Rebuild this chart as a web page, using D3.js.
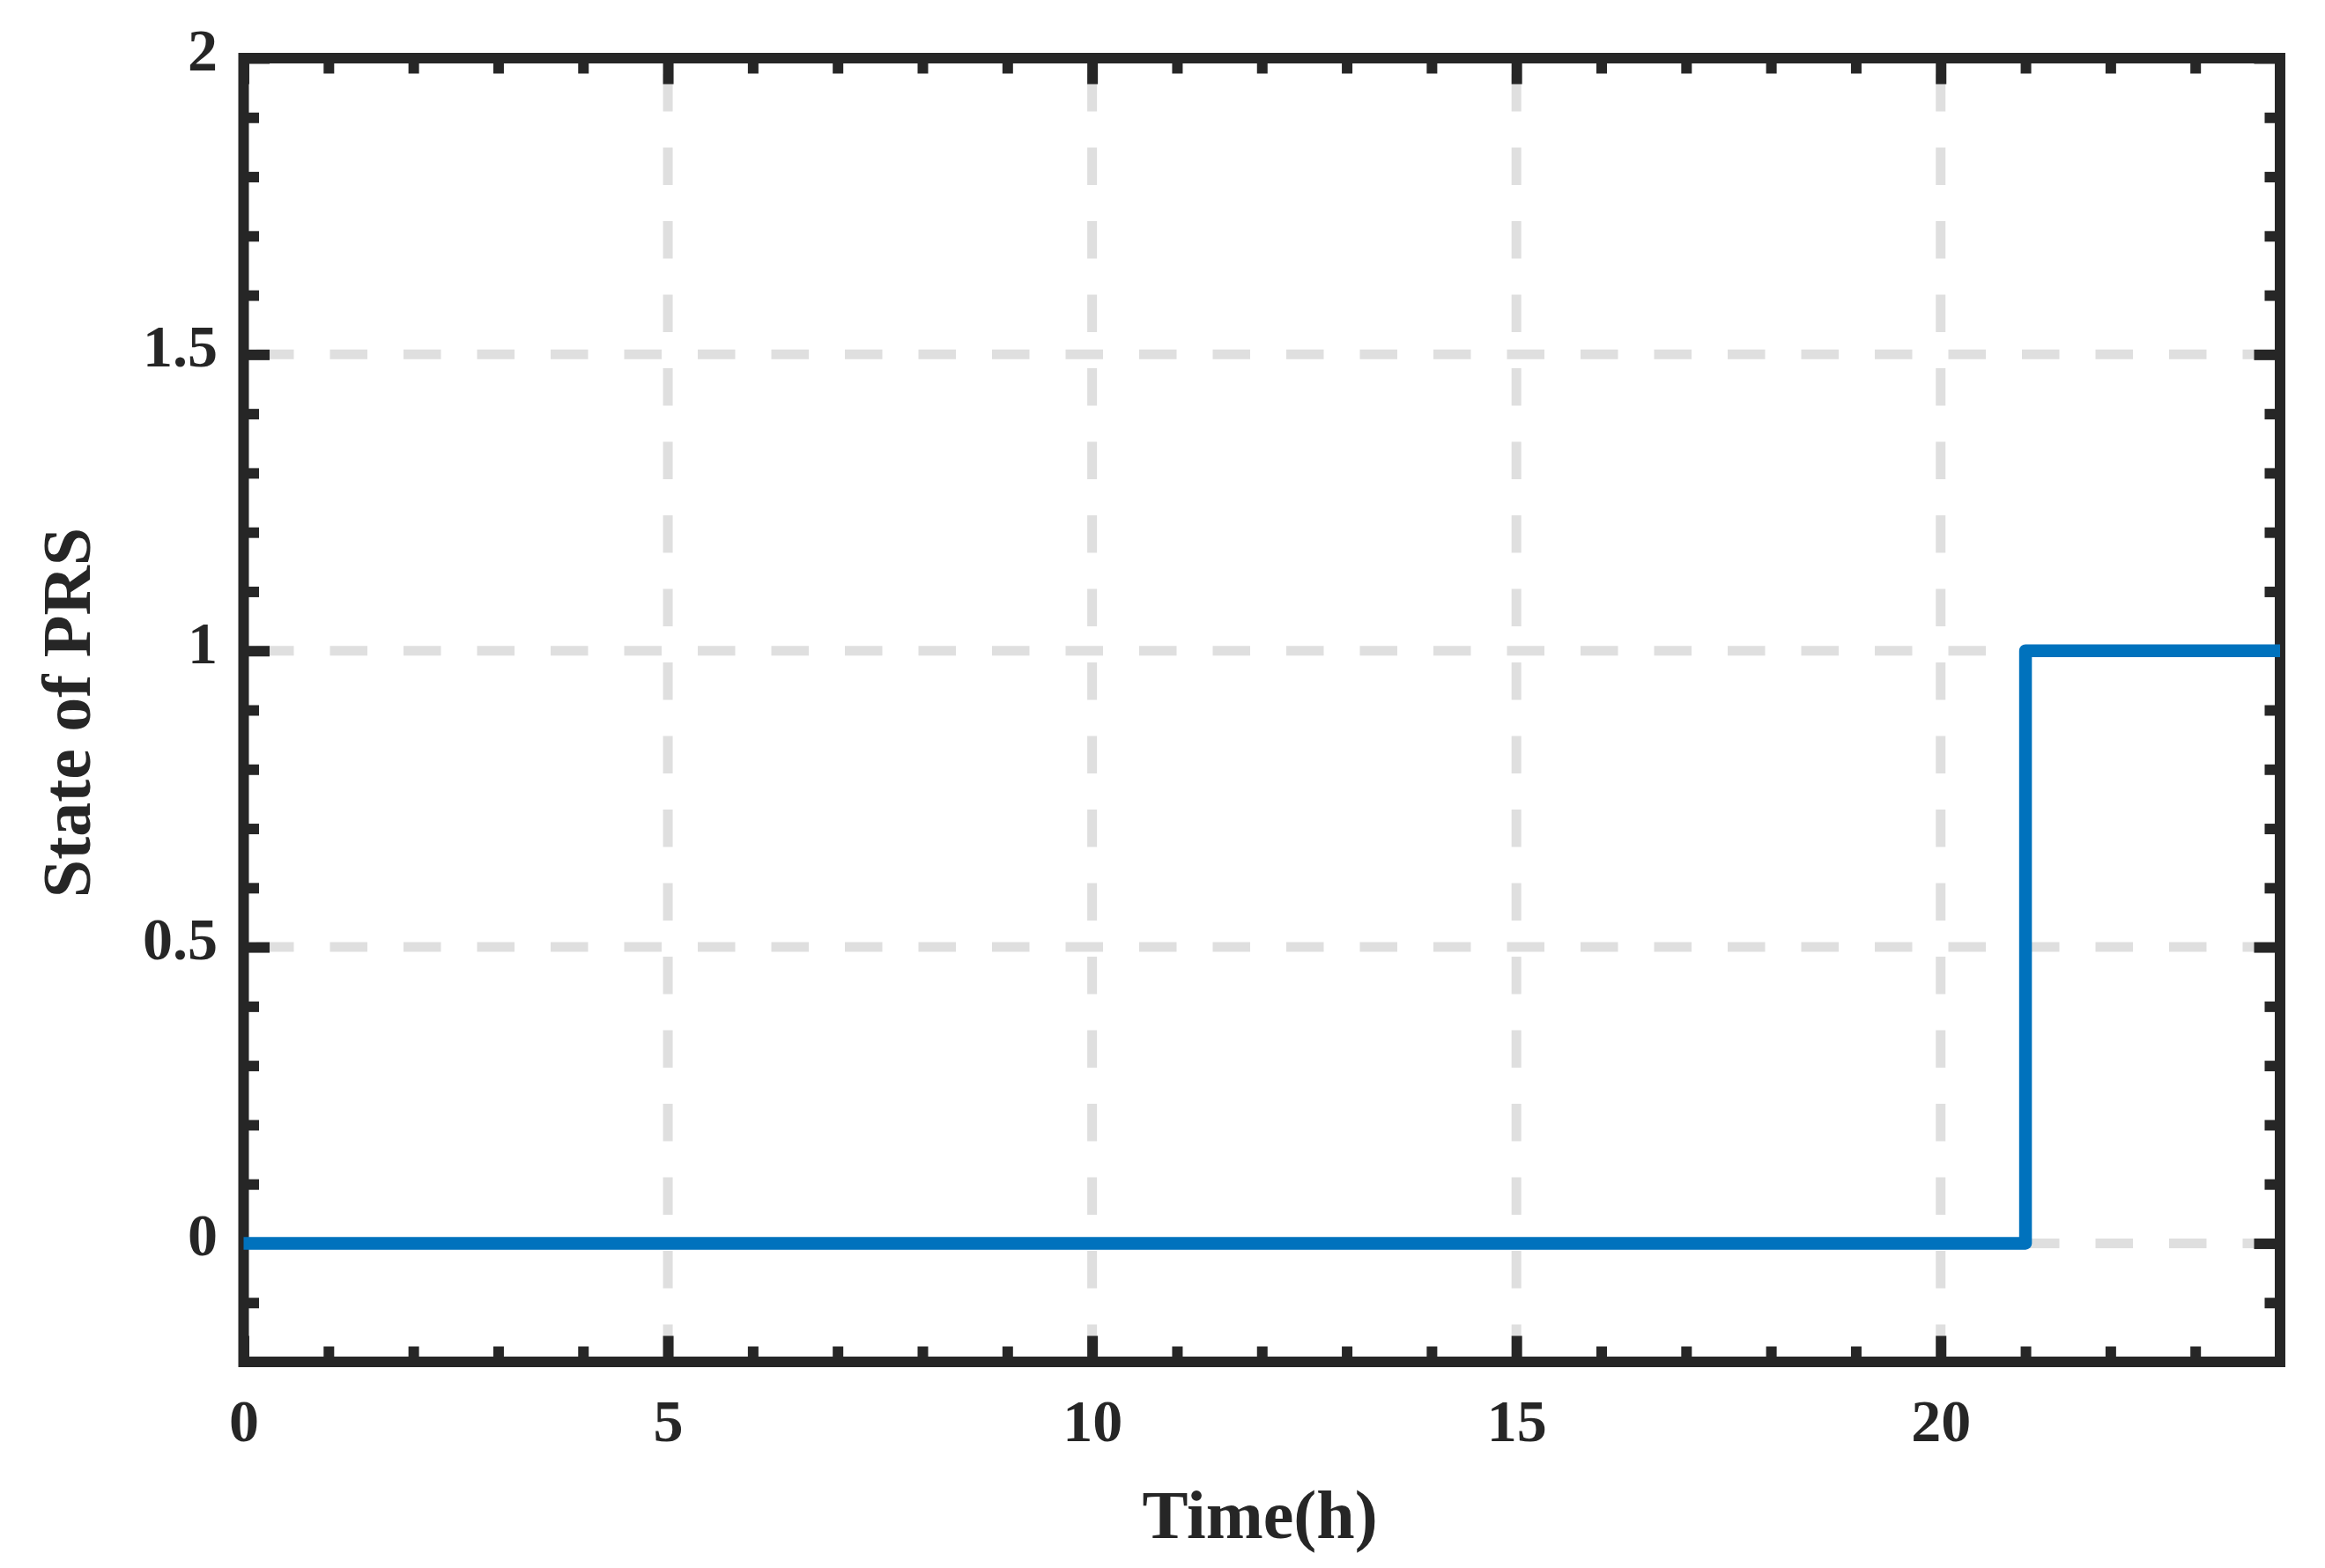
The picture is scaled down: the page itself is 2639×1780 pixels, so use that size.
<!DOCTYPE html>
<html>
<head>
<meta charset="utf-8">
<script src="https://cdn.jsdelivr.net/npm/d3@7"></script>
<style>
  html, body { margin: 0; padding: 0; background: #ffffff; }
  svg { display: block; }
</style>
</head>
<body>
<svg id="chart" width="2639" height="1780"></svg>
<script>
// ---- data ----
const hours = [0,1,2,3,4,5,6,7,8,9,10,11,12,13,14,15,16,17,18,19,20,21,22,23,24];
const prsState = [0,0,0,0,0,0,0,0,0,0,0,0,0,0,0,0,0,0,0,0,0,1,1,1,1];
const xMajorTicks = [0, 5, 10, 15, 20];
const xTickLabels = ["0", "5", "10", "15", "20"];
const xMinorTicks = [1,2,3,4,6,7,8,9,11,12,13,14,16,17,18,19,21,22,23];
const yMajorTicks = [0, 0.5, 1, 1.5, 2];
const yTickLabels = ["0", "0.5", "1", "1.5", "2"];
const yMinorTicks = [-0.1,0.1,0.2,0.3,0.4,0.6,0.7,0.8,0.9,1.1,1.2,1.3,1.4,1.6,1.7,1.8,1.9];
const xGridValues = [5, 10, 15, 20];
const yGridValues = [0, 0.5, 1, 1.5];
const xTitle = "Time(h)";
const yTitle = "State of PRS";

// ---- layout ----
const L = 276.5, R = 2588, T = 66, B = 1546;
const ink = "#262626";
const fontFam = "'Liberation Serif', 'Times New Roman', serif";

const svg = d3.select("#chart");
const x = d3.scaleLinear().domain([0, 24]).range([L, R]);
const y = d3.scaleLinear().domain([-0.2, 2]).range([B, T]);

// ---- grid ----
const grid = svg.append("g");
grid.selectAll("path.vg").data(xGridValues).join("path")
  .attr("d", d => `M${x(d)},${y(-0.2)}V${y(2)}`)
  .attr("stroke", "#dfdfdf").attr("stroke-width", 11)
  .attr("stroke-dasharray", "42.5,41").attr("fill", "none");
grid.selectAll("path.hg").data(yGridValues).join("path")
  .attr("d", d => `M${x(24)},${y(d)}H${x(0)}`)
  .attr("stroke", "#dfdfdf").attr("stroke-width", 11)
  .attr("stroke-dasharray", "42.5,41").attr("fill", "none");

// ---- axes (ticks) ----
const majorLen = 29.5, minorLen = 17.5;
function styleAxis(g) {
  g.select(".domain").remove();
  g.selectAll(".tick line").attr("stroke", ink).attr("stroke-width", 12);
  g.selectAll("text").attr("fill", ink)
    .style("font-family", fontFam).style("font-weight", "bold").style("font-size", "68px");
}

// bottom major with labels
svg.append("g").attr("transform", `translate(0,${B})`)
  .call(d3.axisBottom(x).tickValues(xMajorTicks).tickSize(-majorLen)
    .tickFormat((d, i) => xTickLabels[i]))
  .call(styleAxis)
  .call(g => g.selectAll("text").attr("y", 90).attr("dy", null));
svg.append("g").attr("transform", `translate(0,${B})`)
  .call(d3.axisBottom(x).tickValues(xMinorTicks).tickSize(-minorLen).tickFormat(""))
  .call(styleAxis);
// top
svg.append("g").attr("transform", `translate(0,${T})`)
  .call(d3.axisTop(x).tickValues(xMajorTicks).tickSize(-majorLen).tickFormat(""))
  .call(styleAxis);
svg.append("g").attr("transform", `translate(0,${T})`)
  .call(d3.axisTop(x).tickValues(xMinorTicks).tickSize(-minorLen).tickFormat(""))
  .call(styleAxis);
// left major with labels
svg.append("g").attr("transform", `translate(${L},0)`)
  .call(d3.axisLeft(y).tickValues(yMajorTicks).tickSize(-majorLen)
    .tickFormat((d, i) => yTickLabels[i]))
  .call(styleAxis)
  .call(g => g.selectAll("text").attr("x", -29.5).attr("y", 13.5).attr("dy", null));
svg.append("g").attr("transform", `translate(${L},0)`)
  .call(d3.axisLeft(y).tickValues(yMinorTicks).tickSize(-minorLen).tickFormat(""))
  .call(styleAxis);
// right
svg.append("g").attr("transform", `translate(${R},0)`)
  .call(d3.axisRight(y).tickValues(yMajorTicks).tickSize(-majorLen).tickFormat(""))
  .call(styleAxis);
svg.append("g").attr("transform", `translate(${R},0)`)
  .call(d3.axisRight(y).tickValues(yMinorTicks).tickSize(-minorLen).tickFormat(""))
  .call(styleAxis);

// ---- box ----
svg.append("rect")
  .attr("x", L).attr("y", T).attr("width", R - L).attr("height", B - T)
  .attr("fill", "none").attr("stroke", ink).attr("stroke-width", 12);

// ---- line ----
const data = hours.map((h, i) => ({ h, v: prsState[i] }));
svg.append("path").datum(data)
  .attr("d", d3.line().x(d => x(d.h)).y(d => y(d.v)).curve(d3.curveStepAfter))
  .attr("fill", "none").attr("stroke", "#0072BD").attr("stroke-width", 14.5)
  .attr("stroke-linejoin", "round").attr("stroke-linecap", "butt");

// ---- titles ----
svg.append("text").text(xTitle)
  .attr("x", 1430).attr("y", 1746).attr("text-anchor", "middle")
  .attr("fill", ink).style("font-family", fontFam).style("font-weight", "bold").style("font-size", "78px");
svg.append("text").text(yTitle)
  .attr("transform", "translate(102,809) rotate(-90)").attr("text-anchor", "middle")
  .attr("fill", ink).style("font-family", fontFam).style("font-weight", "bold").style("font-size", "78px");
</script>
</body>
</html>
